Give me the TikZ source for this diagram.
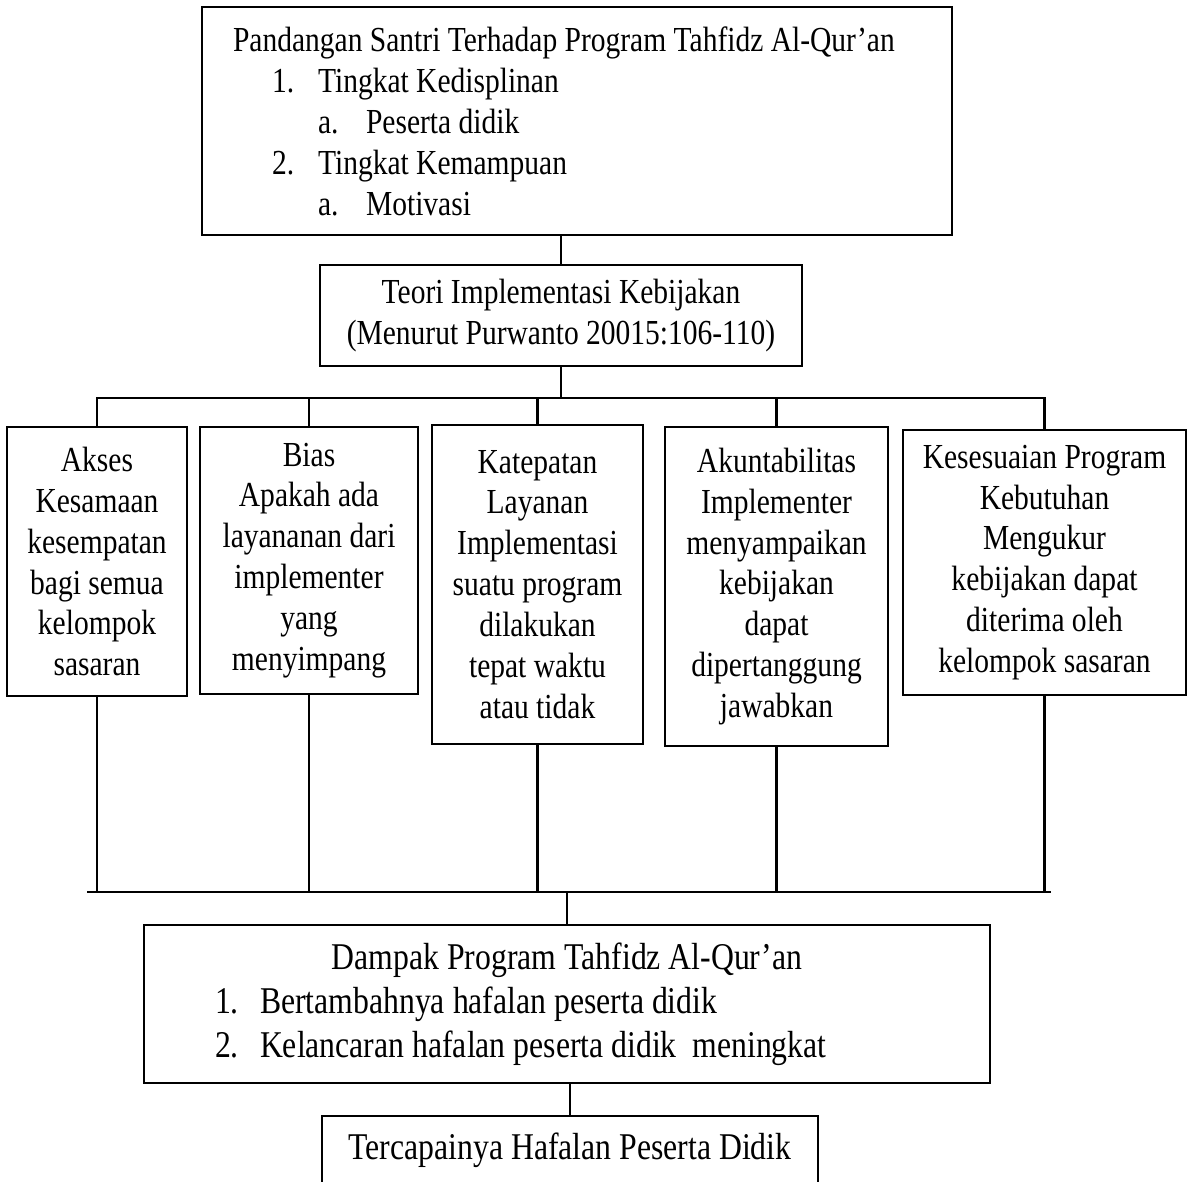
\documentclass[tikz,border=0pt]{standalone}
\usepackage{fontspec}
\setmainfont{Liberation Serif}[FakeStretch=0.84]
\usetikzlibrary{positioning}
\newcommand{\butir}[3]{\hspace*{#1}\makebox[#2][l]{#3}}

\begin{document}
\begin{tikzpicture}[x=0.02cm, y=-0.02cm,
kotak/.style={draw, line width=1.1pt, align=center, inner xsep=0.1cm, font=\fontsize{20}{23.3}\selectfont},
besar/.style={font=\fontsize{21.5}{25}\selectfont},
garis/.style={line width=1.4pt, line cap=rect}]
\useasboundingbox (0,0) rectangle (1187,1181);
\node[kotak, align=left, inner xsep=0.62cm, minimum width=15cm, minimum height=4.56cm] (pandangan) at (577,121)
{\makebox[13.76cm][l]{Pandangan Santri Terhadap Program Tahfidz Al-Qur’an}\\
\butir{0.78cm}{0.92cm}{1.}Tingkat Kedisplinan\\
\butir{1.7cm}{0.96cm}{a.}Peserta didik\\
\butir{0.78cm}{0.92cm}{2.}Tingkat Kemampuan\\
\butir{1.7cm}{0.96cm}{a.}Motivasi};
\node[kotak, minimum width=9.64cm, minimum height=2.02cm] (teori) at (561,315.5)
{Teori Implementasi Kebijakan\\(Menurut Purwanto 20015:106-110)};
\node[kotak, minimum width=3.6cm, minimum height=5.38cm] (akses) at (97,561.5)
{Akses\\Kesamaan\\kesempatan\\bagi semua\\kelompok\\sasaran};
\node[kotak, minimum width=4.36cm, minimum height=5.34cm] (bias) at (309,560.5)
{Bias\\Apakah ada\\layananan dari\\implementer\\yang\\menyimpang};
\node[kotak, minimum width=4.22cm, minimum height=6.38cm] (katepatan) at (537.5,584.5)
{Katepatan\\Layanan\\Implementasi\\suatu program\\dilakukan\\tepat waktu\\atau tidak};
\node[kotak, minimum width=4.46cm, minimum height=6.38cm] (akuntabilitas) at (776.5,586.5)
{Akuntabilitas\\Implementer\\menyampaikan\\kebijakan\\dapat\\dipertanggung\\jawabkan};
\node[kotak, minimum width=5.66cm, minimum height=5.3cm] (kesesuaian) at (1044.5,562.5)
{Kesesuaian Program\\Kebutuhan\\Mengukur\\kebijakan dapat\\diterima oleh\\kelompok sasaran};
\node[kotak, besar, align=left, inner xsep=0.3cm, minimum width=16.92cm, minimum height=3.16cm] (dampak) at (567,1004)
{\makebox[16.32cm]{Dampak Program Tahfidz Al-Qur’an}\\
\butir{1.12cm}{0.9cm}{1.}Bertambahnya hafalan peserta didik\\
\butir{1.12cm}{0.9cm}{2.}Kelancaran hafalan peserta didik\ \ meningkat};
\node[kotak, besar, anchor=north, minimum width=9.92cm, inner ysep=0pt, text height=0.88cm, text depth=0.8cm] (tercapai) at (570,1115)
{Tercapainya Hafalan Peserta Didik};
% garis penghubung
\coordinate (atasKiri) at (98,398);
\coordinate (atasKanan) at (1043,398);
\coordinate (bawahKiri) at (88,892);
\coordinate (bawahKanan) at (1050,892);
\path[garis]
(teori.north |- pandangan.south) edge (teori.north)
(teori.south) edge (teori.south |- atasKiri)
(atasKiri) edge (atasKanan)
(akses.north) edge (akses.north |- atasKiri)
(bias.north) edge (bias.north |- atasKiri)
(katepatan.north) edge (katepatan.north |- atasKiri)
(akuntabilitas.north) edge (akuntabilitas.north |- atasKiri)
(kesesuaian.north) edge (kesesuaian.north |- atasKiri)
;
\path[garis]
(akses.south) edge (akses.south |- bawahKiri)
(bias.south) edge (bias.south |- bawahKiri)
(katepatan.south) edge (katepatan.south |- bawahKiri)
(akuntabilitas.south) edge (akuntabilitas.south |- bawahKiri)
(kesesuaian.south) edge (kesesuaian.south |- bawahKiri)
(bawahKiri) edge (bawahKanan)
(dampak.north) edge (dampak.north |- bawahKiri)
(tercapai.north) edge (tercapai.north |- dampak.south)
;
\end{tikzpicture}
\end{document}
